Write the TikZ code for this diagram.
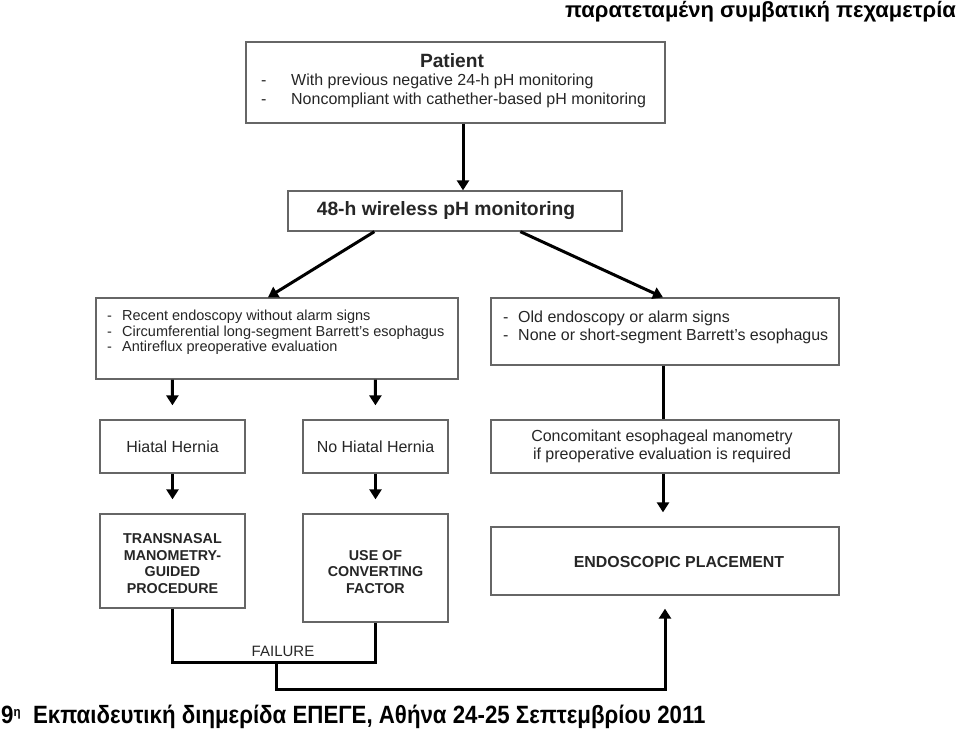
\documentclass[tikz,border=0pt]{standalone}
\usepackage{fontspec}
\usepackage{graphicx}
\setmainfont{Liberation Sans}
\usetikzlibrary{arrows.meta,calc}
\begin{document}
\begin{tikzpicture}[x=1pt,y=-1pt,
  box/.style={draw=black!60, line width=1.3pt, inner sep=0pt, fill=white},
  conn/.style={line width=3pt, draw=black, -{Triangle[width=12pt,length=10pt]}},
  plainline/.style={line width=3pt, draw=black},
  txt/.style={inner sep=0pt, text=black!85, align=left},
  ctxt/.style={inner sep=0pt, text=black!85, align=center},
]
\useasboundingbox (0,0) rectangle (960,730);

% boxes
\node[box, minimum width=419pt, minimum height=81pt] (patient) at (455.5,82.5) {};
\node[box, minimum width=334pt, minimum height=40pt] (wire) at (455,211) {};
\node[box, minimum width=362pt, minimum height=81pt] (left) at (277,338.5) {};
\node[box, minimum width=348pt, minimum height=67pt] (right) at (665,331.5) {};
\node[box, minimum width=145pt, minimum height=53pt] (hiatal) at (172.5,446.5) {};
\node[box, minimum width=145pt, minimum height=53pt] (nohiatal) at (375.5,446.5) {};
\node[box, minimum width=348pt, minimum height=53pt] (conc) at (665,446.5) {};
\node[box, minimum width=145pt, minimum height=94pt] (trans) at (172.5,561) {};
\node[box, minimum width=145pt, minimum height=108pt] (use) at (375.5,568) {};
\node[box, minimum width=348pt, minimum height=68pt] (endo) at (665,561) {};

% texts
\node[ctxt, font=\bfseries\fontsize{19.2}{22}\selectfont] (ptitle) at (452,61) {Patient};
\node[txt, anchor=west, font=\fontsize{16}{19}\selectfont] (plines) at (261,91.5)
  {\begin{tabular}{@{}p{30pt}@{}l@{}}-&With previous negative 24-h pH monitoring\\-&Noncompliant with cathether-based pH monitoring\end{tabular}};
\node[ctxt, font=\bfseries\fontsize{19.3}{22}\selectfont] (wtext) at (446,211) {48-h wireless pH monitoring};
\node[txt, anchor=west, font=\fontsize{14.5}{15.6}\selectfont] (ltext) at (107,333)
  {\begin{tabular}{@{}p{15pt}@{}l@{}}-&Recent endoscopy without alarm signs\\-&Circumferential long-segment Barrett's esophagus\\-&Antireflux preoperative evaluation\end{tabular}};
\node[txt, anchor=west, font=\fontsize{16}{18}\selectfont] (rtext) at (503,327.5)
  {\begin{tabular}{@{}p{15pt}@{}l@{}}-&Old endoscopy or alarm signs\\-&None or short-segment Barrett's esophagus\end{tabular}};
\node[ctxt, font=\fontsize{16}{18}\selectfont] at (hiatal) {Hiatal Hernia};
\node[ctxt, font=\fontsize{16}{18}\selectfont] at (nohiatal) {No Hiatal Hernia};
\node[ctxt, font=\fontsize{16}{18}\selectfont] at (662,446) {Concomitant esophageal manometry\\if preoperative evaluation is required};
\node[ctxt, font=\bfseries\fontsize{14.3}{16.8}\selectfont] at (172.5,563.5) {TRANSNASAL\\MANOMETRY-\\GUIDED\\PROCEDURE};
\node[ctxt, font=\bfseries\fontsize{14.3}{16.8}\selectfont] at (375.5,572) {USE OF\\CONVERTING\\FACTOR};
\node[ctxt, font=\bfseries\fontsize{15.9}{18}\selectfont] at (679,562) {ENDOSCOPIC PLACEMENT};
\node[ctxt, font=\fontsize{15}{18}\selectfont] (failure) at (283,651) {FAILURE};

% connectors
\draw[conn] ($(patient.south)+(7.5,0)$) -- ($(wire.north)+(8,0)$);
\draw[conn] ($(wire.south west)+(87,0)$) -- ($(left.north)+(-9,0)$);
\draw[conn] ($(wire.south west)+(233,0)$) -- ($(right.north)+(-2,0)$);
\draw[conn, shorten >=14pt] ($(left.south west)+(77,0)$) -- (hiatal.north);
\draw[conn, shorten >=14pt] ($(left.south west)+(280,0)$) -- (nohiatal.north);
\draw[conn, shorten >=14pt] (hiatal.south) -- (trans.north);
\draw[conn, shorten >=14pt] (nohiatal.south) -- (use.north);
\draw[plainline] ($(right.south)+(-2,0)$) -- ($(conc.north)+(-2,0)$);
\draw[conn, shorten >=14pt] ($(conc.south)+(-2,0)$) -- ($(endo.north)+(-2,0)$);
\coordinate (fail) at (276,662);
\draw[plainline] (trans.south) -- (trans.south |- fail) -- (use.south |- fail) -- (use.south);
\draw[conn, shorten >=13pt] (fail) -- (276,689) -| (endo.south);

% header and footer
\node[inner sep=0pt, anchor=north east, font=\bfseries\fontsize{22}{24}\selectfont] (title) at (956,1) {παρατεταμένη συμβατική πεχαμετρία};
\node[inner sep=0pt, anchor=base west] (footer) at (1,723) {\scalebox{0.89}[1]{\bfseries\fontsize{25}{27}\selectfont 9\raisebox{7pt}{\fontsize{13}{13}\selectfont η}\ \ Εκπαιδευτική διημερίδα ΕΠΕΓΕ, Αθήνα 24-25 Σεπτεμβρίου 2011}};
\end{tikzpicture}
\end{document}
